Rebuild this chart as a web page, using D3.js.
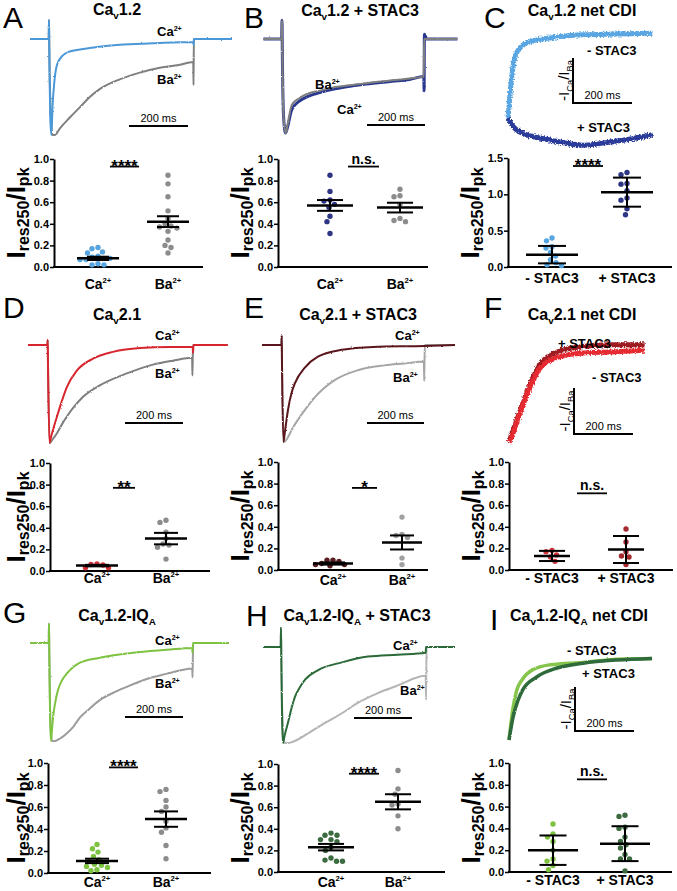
<!DOCTYPE html>
<html><head><meta charset="utf-8">
<script src="https://cdn.jsdelivr.net/npm/d3@7"></script>
<style>body{margin:0;background:#fff}svg{display:block}</style>
</head><body><svg id="c" width="677" height="891">
<defs>
<filter id="nz1" x="-5%" y="-30%" width="110%" height="160%"><feTurbulence type="fractalNoise" baseFrequency="0.8" numOctaves="1" seed="4" result="t"/><feDisplacementMap in="SourceGraphic" in2="t" scale="2.2" xChannelSelector="R" yChannelSelector="G"/></filter>
<filter id="nz2" x="-5%" y="-30%" width="110%" height="160%"><feTurbulence type="fractalNoise" baseFrequency="0.7" numOctaves="1" seed="7" result="t"/><feDisplacementMap in="SourceGraphic" in2="t" scale="5" xChannelSelector="R" yChannelSelector="G"/></filter>
</defs>
</svg>
<script>
// ================= DATA =================
// Current traces: [time (ms from pulse onset), current as fraction of peak (0 = baseline, 1 = peak inward)]
const traceA_Ca = [[-64,0],[-1,0],[0,-0.2],[1,0.1],[4,0.8],[8,1.0],[12,0.7],[18,0.45],[27,0.27],[47,0.17],[70,0.13],[105,0.11],[170,0.08],[240,0.06],[350,0.045],[489,0.03],[490,0.06],[491,0],[620,0]];
const traceA_Ba = [[-64,0],[-1,0],[0,-0.2],[1,0.1],[5,0.7],[12,1.0],[20,1.0],[37,0.93],[70,0.82],[105,0.71],[140,0.6],[173,0.52],[240,0.42],[308,0.35],[376,0.3],[440,0.27],[489,0.24],[490,0.48],[491,0],[620,0]];
const traceB_Ca = [[-64,0],[-1,0],[0,-0.2],[1,0.1],[5,0.8],[12,1.0],[18,0.95],[34,0.75],[60,0.66],[90,0.61],[130,0.57],[183,0.53],[240,0.5],[290,0.48],[380,0.45],[440,0.43],[489,0.40],[490,0.55],[491,-0.05],[500,0],[605,0]];
const traceB_Ba = [[-64,0],[-1,0],[0,-0.2],[1,0.1],[5,0.8],[12,1.0],[18,0.93],[34,0.7],[60,0.63],[90,0.58],[130,0.55],[183,0.51],[240,0.49],[290,0.47],[380,0.44],[440,0.42],[489,0.40],[490,0],[605,0]];
// net CDI ratio traces: [time (ms), normalised -ICa/IBa]
const traceC_minus = [[0,0],[17,0.64],[30,0.82],[64,0.94],[142,1.0],[254,1.04],[370,1.05],[490,1.06]];
const traceC_plus  = [[0,0],[7,-0.05],[40,-0.175],[142,-0.275],[254,-0.34],[346,-0.3],[420,-0.26],[490,-0.21]];
const traceD_Ca = [[-69,0],[-2,0],[-1,-0.05],[0,0.2],[5,1.0],[12,0.92],[31,0.73],[48,0.57],[65,0.43],[100,0.26],[155,0.14],[224,0.07],[317,0.03],[420,0.02],[499,0.02],[500,0.08],[502,0],[620,0]];
const traceD_Ba = [[-69,0],[-2,0],[-1,-0.05],[0,0.2],[6,1.0],[14,0.97],[31,0.9],[48,0.81],[65,0.73],[90,0.63],[120,0.53],[180,0.41],[272,0.29],[362,0.2],[430,0.16],[497,0.13],[498,0.31],[500,0],[620,0]];
const traceE_Ca = [[-70,0],[-2,0],[-1,-0.1],[0,0.2],[5,1.0],[10,0.9],[21,0.67],[33,0.5],[46,0.39],[81,0.23],[126,0.12],[210,0.05],[320,0.02],[500,0.01],[607,0]];
const traceE_Ba = [[-70,0],[-2,0],[-1,-0.1],[0,0.2],[7,1.0],[14,0.98],[21,0.95],[35,0.87],[56,0.77],[85,0.65],[115,0.54],[186,0.36],[266,0.26],[360,0.21],[430,0.19],[498,0.17],[499,0.37],[501,0],[607,0]];
const traceF_minus = [[0,0],[4,0.02],[37,0.32],[71,0.61],[105,0.82],[163,0.94],[251,0.99],[342,1.0],[460,1.02]];
const traceF_plus  = [[0,0],[37,0.34],[71,0.64],[105,0.86],[163,1.0],[251,1.06],[342,1.08],[460,1.08]];
const traceG_Ca = [[-65,0],[-1,0],[0,-0.2],[1,0.1],[4,0.8],[7,1.0],[10,0.9],[14,0.76],[22,0.6],[31,0.48],[45,0.38],[62,0.31],[107,0.2],[176,0.15],[290,0.1],[407,0.07],[494,0.05],[495,0.1],[497,0],[620,0]];
const traceG_Ba = [[-65,0],[-1,0],[0,-0.2],[1,0.1],[5,0.8],[10,1.0],[20,1.0],[40,0.97],[62,0.92],[85,0.85],[107,0.76],[140,0.67],[176,0.58],[220,0.51],[266,0.45],[345,0.36],[424,0.3],[494,0.26],[495,0.35],[497,0],[620,0]];
const traceH_Ca = [[-62,0],[-1,0],[0,-0.2],[1,0.1],[4,0.8],[7,1.0],[12,0.93],[24,0.79],[36,0.64],[48,0.52],[65,0.42],[83,0.34],[128,0.24],[210,0.16],[300,0.1],[403,0.08],[499,0.06],[500,0],[600,0]];
const traceH_Ba = [[-62,0],[-1,0],[0,-0.2],[1,0.1],[6,0.8],[12,1.0],[25,1.0],[38,0.99],[93,0.9],[152,0.79],[210,0.69],[266,0.58],[334,0.48],[403,0.4],[499,0.3],[500,0.55],[502,0],[600,0]];
const traceI_minus = [[0,0],[14,0.41],[27,0.63],[44,0.75],[81,0.88],[139,0.94],[251,0.97],[366,1.01],[485,1.02]];
const traceI_plus  = [[0,0],[14,0.29],[31,0.5],[47,0.63],[95,0.79],[163,0.9],[251,0.96],[366,1.0],[485,1.02]];

// Scatter categories and values (Ires250/Ipk)
const catsCaBa = ["Ca", "Ba"];
const catsStac = ["- STAC3", "+ STAC3"];
const ptsA = [[0.18,0.17,0.14,0.13,0.10,0.09,0.08,0.08,0.07,0.07,0.03,0.02,0.02],
              [0.85,0.77,0.65,0.52,0.45,0.40,0.38,0.37,0.36,0.33,0.25,0.20,0.18,0.13]];
const ptsB = [[0.85,0.70,0.62,0.61,0.58,0.55,0.47,0.42,0.31],
              [0.72,0.66,0.65,0.58,0.45,0.43,0.42]];
const ptsC = [[0.40,0.36,0.28,0.26,0.20,0.15,0.10,0.06,0.03,0.02],
              [1.30,1.27,1.15,1.14,1.05,0.95,0.92,0.80,0.72]];
const ptsD = [[0.065,0.06,0.055,0.03,0.03],
              [0.47,0.45,0.36,0.30,0.25,0.24,0.22,0.11]];
const ptsE = [[0.09,0.09,0.08,0.06,0.05,0.05,0.04],
              [0.49,0.33,0.32,0.30,0.11,0.05]];
const ptsF = [[0.18,0.17,0.14,0.12,0.08],
              [0.38,0.26,0.17,0.13,0.12,0.05]];
const ptsG = [[0.26,0.22,0.19,0.15,0.12,0.11,0.08,0.07,0.06,0.05,0.03,0.02],
              [0.76,0.74,0.66,0.60,0.56,0.47,0.41,0.37,0.25,0.13]];
const ptsH = [[0.36,0.34,0.34,0.30,0.30,0.28,0.23,0.20,0.13,0.11,0.10,0.10],
              [0.94,0.77,0.72,0.63,0.62,0.52,0.40]];
const ptsI = [[0.44,0.35,0.32,0.28,0.20,0.12,0.10,0.06,0.02],
              [0.52,0.51,0.41,0.40,0.32,0.28,0.25,0.22,0.16,0.12,0.12,0.01]];
// mean and error (SEM for Ca/Ba panels, SD for net CDI panels)
const meansA = [0.08, 0.42], errA = [0.015, 0.05];
const meansB = [0.57, 0.55], errB = [0.05, 0.045];
const meansC = [0.17, 1.03], errC = [0.12, 0.20];
const meansD = [0.05, 0.30], errD = [0.007, 0.053];
const meansE = [0.06, 0.255], errE = [0.01, 0.065];
const meansF = [0.13, 0.19], errF = [0.047, 0.125];
const meansG = [0.11, 0.49], errG = [0.02, 0.07];
const meansH = [0.23, 0.65], errH = [0.03, 0.07];
const meansI = [0.20, 0.26], errI = [0.135, 0.16];
// significance
const sigLabels = ["****", "n.s.", "****", "**", "*", "n.s.", "****", "****", "n.s."];
const sigValues = [0.93, 0.93, 1.39, 0.77, 0.76, 0.71, 0.96, 0.91, 0.85];
// tick labels
const ticks1 = [0, 0.2, 0.4, 0.6, 0.8, 1.0];
const ticks15 = [0, 0.5, 1.0, 1.5];
const scaleBarMs = 200;

// ================= STYLE / LAYOUT =================
const FONT = '"Liberation Sans", Arial, Helvetica, sans-serif';
const C = {
  blue: "#4b98d8", navy: "#2b3990", cdiLight: "#5aa6e2", cdiNavy: "#2a3a9a",
  red: "#d8262d", maroon: "#5a171b", redL: "#e52a30", redD: "#9c1a20",
  green: "#7ec242", dgreen: "#2c6a39", gL: "#86c54b", gD: "#2e6a3a",
  g1: "#7f7f7f", g2: "#a6a6a6", g3: "#9c9c9c", g4: "#b4b4b4",
  dotBlue: "#56a5e0", dotNavy: "#2e3584", dotGray: "#8c8c8c", dotRed: "#d0333a",
  dotMaroon: "#5a1e22", dotGrayL: "#a0a0a0", dotRedD: "#a52a30", dotGreen: "#7ec242", dotDGreen: "#3c6b40"
};
const sub = (t) => [t, "sub"], sup = (t) => [t, "sup"];
const ion = (t) => [[t], sup("2+")];

const panels = [
 {id:"A", letter:[3,28], title:{x:117,y:15,parts:[["Ca"],sub("v"),["1.2"]]},
  trace:{x0:49,y0:39,y1:135,ppm:0.295,series:[[traceA_Ba,C.g1,2],[traceA_Ca,C.blue,2]],sb:{x:129,y:126},
   labels:[{p:ion("Ca"),x:157,y:36},{p:ion("Ba"),x:157,y:84}]},
  sc:{ax:54,top:159,y0:267,xend:203,cx:[98,168],ymax:1,ticks:ticks1,cats:catsCaBa,pts:ptsA,cols:[C.dotBlue,C.dotGray],m:meansA,e:errA,mw:42,cw:22,sig:[110,139],lab:289,yl:[25,213]}},
 {id:"B", letter:[244,28], title:{x:360,y:16,parts:[["Ca"],sub("v"),["1.2 + STAC3"]]},
  trace:{x0:282,y0:39,y1:133,ppm:0.29,series:[[traceB_Ca,C.navy,3],[traceB_Ba,C.g1,2]],sb:{x:367,y:125},
   labels:[{p:ion("Ba"),x:315,y:89},{p:ion("Ca"),x:337,y:114}]},
  sc:{ax:278,top:159,y0:267,xend:428,cx:[330,400],ymax:1,ticks:ticks1,cats:catsCaBa,pts:ptsB,cols:[C.dotNavy,C.dotGray],m:meansB,e:errB,mw:46,cw:26,sig:[348,379],lab:289,yl:[249,213]}},
 {id:"C", letter:[484,28], title:{x:582,y:16,parts:[["Ca"],sub("v"),["1.2 net CDI"]]},
  trace:{cdi:true,x0:508,y0:118,y1:38,ppm:0.295,series:[[traceC_minus,C.cdiLight,5],[traceC_plus,C.cdiNavy,5]],sb:{x:573,ytop:58,ybot:103},
   labels:[{p:[["- STAC3"]],x:587,y:55},{p:[["+ STAC3"]],x:577,y:132}]},
  sc:{ax:508,top:158,y0:267,xend:672,cx:[552,627],ymax:1.5,ticks:ticks15,cats:catsStac,pts:ptsC,cols:[C.dotBlue,C.dotNavy],m:meansC,e:errC,mw:52,cw:28,sig:[573,603],lab:283,yl:[479,213]}},
 {id:"D", letter:[3,318], title:{x:117,y:320,parts:[["Ca"],sub("v"),["2.1"]]},
  trace:{x0:48,y0:345,y1:443,ppm:0.29,series:[[traceD_Ba,C.g1,2],[traceD_Ca,C.red,2]],sb:{x:125,y:423},
   labels:[{p:ion("Ca"),x:155,y:340},{p:ion("Ba"),x:155,y:378}]},
  sc:{ax:50,top:463,y0:571,xend:210,cx:[97,166],ymax:1,ticks:ticks1,cats:catsCaBa,pts:ptsD,cols:[C.dotRed,C.dotGray],m:meansD,e:errD,mw:42,cw:24,sig:[113,135],lab:583,yl:[25,517]}},
 {id:"E", letter:[244,318], title:{x:358,y:320,parts:[["Ca"],sub("v"),["2.1 + STAC3"]]},
  trace:{x0:282,y0:345,y1:442,ppm:0.285,series:[[traceE_Ba,C.g2,2],[traceE_Ca,C.maroon,2]],sb:{x:367,y:423},
   labels:[{p:ion("Ca"),x:395,y:340},{p:ion("Ba"),x:393,y:382}]},
  sc:{ax:278,top:462,y0:570,xend:428,cx:[333,402],ymax:1,ticks:ticks1,cats:catsCaBa,pts:ptsE,cols:[C.dotMaroon,C.dotGrayL],m:meansE,e:errE,mw:40,cw:24,sig:[352,377],lab:585,yl:[249,516]}},
 {id:"F", letter:[484,318], title:{x:582,y:320,parts:[["Ca"],sub("v"),["2.1 net CDI"]]},
  trace:{cdi:true,x0:509,y0:442,y1:352,ppm:0.295,series:[[traceF_plus,C.redD,5],[traceF_minus,C.redL,5]],sb:{x:574,ytop:388,ybot:434},
   labels:[{p:[["+ STAC3"]],x:558,y:348},{p:[["- STAC3"]],x:592,y:382}]},
  sc:{ax:509,top:462,y0:570,xend:673,cx:[552,626],ymax:1,ticks:ticks1,cats:catsStac,pts:ptsF,cols:[C.dotRed,C.dotRedD],m:meansF,e:errF,mw:36,cw:26,sig:[577,607],lab:583,yl:[480,516]}},
 {id:"G", letter:[3,623], title:{x:117,y:621,parts:[["Ca"],sub("v"),["1.2-IQ"],sub("A")]},
  trace:{x0:49,y0:643,y1:741,ppm:0.29,series:[[traceG_Ba,C.g3,2],[traceG_Ca,C.green,2]],sb:{x:125,y:717},
   labels:[{p:ion("Ca"),x:155,y:645},{p:ion("Ba"),x:155,y:688}]},
  sc:{ax:48,top:763,y0:873,xend:211,cx:[97,166],ymax:1,ticks:ticks1,cats:catsCaBa,pts:ptsG,cols:[C.dotGreen,C.dotGray],m:meansG,e:errG,mw:42,cw:24,sig:[109,138],lab:887,yl:[25,818]}},
 {id:"H", letter:[246,626], title:{x:357,y:621,parts:[["Ca"],sub("v"),["1.2-IQ"],sub("A"),[" + STAC3"]]},
  trace:{x0:281,y0:647,y1:743,ppm:0.29,series:[[traceH_Ba,C.g4,2],[traceH_Ca,C.dgreen,2]],sb:{x:354,y:718},
   labels:[{p:ion("Ca"),x:393,y:650},{p:ion("Ba"),x:400,y:695}]},
  sc:{ax:278,top:764,y0:872,xend:445,cx:[331,398],ymax:1,ticks:ticks1,cats:catsCaBa,pts:ptsH,cols:[C.dotDGreen,C.dotGray],m:meansH,e:errH,mw:46,cw:26,sig:[349,379],lab:887,yl:[249,818]}},
 {id:"I", letter:[490,630], title:{x:579,y:621,parts:[["Ca"],sub("v"),["1.2-IQ"],sub("A"),[" net CDI"]]},
  trace:{cdi:true,x0:509,y0:740,y1:660,ppm:0.295,series:[[traceI_minus,C.gL,3.5],[traceI_plus,C.gD,3.5]],sb:{x:575,ytop:687,ybot:731},
   labels:[{p:[["- STAC3"]],x:567,y:655},{p:[["+ STAC3"]],x:582,y:678}]},
  sc:{ax:509,top:763,y0:872,xend:672,cx:[553,625],ymax:1,ticks:ticks1,cats:catsStac,pts:ptsI,cols:[C.dotGreen,C.dotDGreen],m:meansI,e:errI,mw:50,cw:27,sig:[577,607],lab:885,yl:[480,818]}}
];

// ================= DRAW =================
const svg = d3.select("#c").attr("font-family", FONT);

function rich(g, x, y, parts, size, anchor, weight) {
  const t = g.append("text").attr("x", x).attr("y", y).attr("text-anchor", anchor || "start")
    .attr("font-weight", weight || "bold").attr("font-size", size).attr("fill", "#000");
  let shift = 0;
  parts.forEach(p => {
    let target = 0, fs = size;
    if (p[1] === "sub") { target = size * 0.28; fs = size * 0.62; }
    if (p[1] === "sup") { target = -size * 0.42; fs = size * 0.55; }
    t.append("tspan").attr("font-size", fs).attr("dy", target - shift).text(p[0]);
    shift = target;
  });
  return t;
}

function swarm(vals, y, r) {
  const idx = d3.range(vals.length).sort((a, b) => d3.descending(vals[a], vals[b]));
  const placed = [], out = [];
  const minD = 2 * r + 0.6;
  idx.forEach(i => {
    const py = y(vals[i]);
    let best = 0;
    for (let s = 0; s < 400; s++) {
      const cand = (s % 2 === 0 ? 1 : -1) * Math.ceil(s / 2) * 0.5;
      if (placed.every(q => Math.hypot(q[0] - cand, q[1] - py) >= minD)) { best = cand; break; }
    }
    placed.push([best, py]); out[i] = best;
  });
  return out;
}

panels.forEach((p, pi) => {
  const g = svg.append("g");
  g.append("text").attr("x", p.letter[0]).attr("y", p.letter[1]).attr("font-size", 30).text(p.id);
  rich(g, p.title.x, p.title.y, p.title.parts, 16, "middle");

  // ---- trace ----
  const T = p.trace;
  const xs = d3.scaleLinear().domain([0, scaleBarMs]).range([T.x0, T.x0 + scaleBarMs * T.ppm]);
  const ys = d3.scaleLinear().domain([0, 1]).range([T.y0, T.y1]);
  const line = d3.line().x(d => xs(d[0])).y(d => ys(d[1])).curve(d3.curveMonotoneX);
  T.series.forEach(s => {
    g.append("path").attr("d", line(s[0])).attr("fill", "none").attr("stroke", s[1])
      .attr("stroke-width", s[2]).attr("stroke-linejoin", "round")
      .attr("filter", T.cdi && s[2] > 4 ? "url(#nz2)" : "url(#nz1)");
  });
  const barLen = xs(scaleBarMs) - xs(0);
  if (!T.cdi) {
    g.append("line").attr("x1", T.sb.x).attr("x2", T.sb.x + barLen).attr("y1", T.sb.y).attr("y2", T.sb.y)
      .attr("stroke", "#000").attr("stroke-width", 2);
    g.append("text").attr("x", T.sb.x + barLen / 2).attr("y", T.sb.y - 4).attr("text-anchor", "middle")
      .attr("font-size", 11).text(scaleBarMs + " ms");
  } else {
    g.append("path").attr("d", `M${T.sb.x},${T.sb.ytop}V${T.sb.ybot}H${T.sb.x + barLen}`)
      .attr("fill", "none").attr("stroke", "#000").attr("stroke-width", 2);
    g.append("text").attr("x", T.sb.x + barLen / 2).attr("y", T.sb.ybot - 4).attr("text-anchor", "middle")
      .attr("font-size", 11).text(scaleBarMs + " ms");
    const rl = g.append("g").attr("transform", `translate(${T.sb.x - 4},${(T.sb.ytop + T.sb.ybot) / 2}) rotate(-90)`);
    rich(rl, 0, 0, [["-I"], sub("Ca"), ["/I"], sub("Ba")], 15, "middle", "normal");
  }
  T.labels.forEach(l => rich(g, l.x, l.y, l.p, 13, "start"));

  // ---- scatter ----
  const S = p.sc;
  const y = d3.scaleLinear().domain([0, S.ymax]).range([S.y0, S.top]);
  const x = d3.scalePoint().domain(S.cats).range(S.cx);
  const ag = g.append("g").attr("transform", `translate(${S.ax},0)`)
    .call(d3.axisLeft(y).tickValues(S.ticks).tickFormat(d3.format(".1f")).tickSize(4).tickSizeOuter(0));
  ag.attr("font-family", FONT);
  ag.select(".domain").attr("stroke-width", 2);
  ag.selectAll(".tick line").attr("stroke-width", 1.5);
  ag.selectAll(".tick text").attr("font-size", 11).attr("font-weight", "bold").attr("x", -5).attr("fill", "#000");
  g.append("line").attr("x1", S.ax - 1).attr("x2", S.xend).attr("y1", S.y0).attr("y2", S.y0)
    .attr("stroke", "#000").attr("stroke-width", 2);

  const R = 2.7;
  S.pts.forEach((vals, k) => {
    const offs = swarm(vals, y, R);
    g.append("g").selectAll("circle").data(vals).join("circle")
      .attr("cx", (d, i) => x(S.cats[k]) + offs[i]).attr("cy", d => y(d)).attr("r", R).attr("fill", S.cols[k]);
  });
  S.m.forEach((mv, k) => {
    const cx = x(S.cats[k]), e = S.e[k];
    g.append("line").attr("x1", cx).attr("x2", cx).attr("y1", y(mv - e)).attr("y2", y(mv + e)).attr("stroke", "#000").attr("stroke-width", 2);
    [mv - e, mv + e].forEach(v => g.append("line").attr("x1", cx - S.cw / 2).attr("x2", cx + S.cw / 2)
      .attr("y1", y(v)).attr("y2", y(v)).attr("stroke", "#000").attr("stroke-width", 2));
    g.append("line").attr("x1", cx - S.mw / 2).attr("x2", cx + S.mw / 2).attr("y1", y(mv)).attr("y2", y(mv))
      .attr("stroke", "#000").attr("stroke-width", 2.5);
  });
  // significance
  const sy = y(sigValues[pi]);
  g.append("line").attr("x1", S.sig[0]).attr("x2", S.sig[1]).attr("y1", sy).attr("y2", sy).attr("stroke", "#000").attr("stroke-width", 1.8);
  const lab = sigLabels[pi];
  const isStar = lab.indexOf("*") >= 0;
  g.append("text").attr("x", (S.sig[0] + S.sig[1]) / 2).attr("y", isStar ? sy + 5 : sy - 3)
    .attr("text-anchor", "middle").attr("font-weight", "bold").attr("font-size", isStar ? 17 : 14).text(lab);
  // category labels
  S.cats.forEach(c => {
    const parts = S.cats === catsCaBa ? ion(c) : [[c]];
    rich(g, x(c), S.lab, parts, 14, "middle");
  });
  // y label
  const yl = g.append("text").attr("transform", `translate(${S.yl[0]},${S.yl[1]}) rotate(-90)`)
    .attr("text-anchor", "middle").attr("font-weight", "bold").attr("fill", "#000");
  yl.append("tspan").attr("font-size", 26).text("I");
  yl.append("tspan").attr("font-size", 16).attr("dy", 4).text("res250");
  yl.append("tspan").attr("font-size", 26).attr("dy", -4).text("/");
  yl.append("tspan").attr("font-size", 26).text("I");
  yl.append("tspan").attr("font-size", 16).attr("dy", 4).text("pk");
});
</script></body></html>
